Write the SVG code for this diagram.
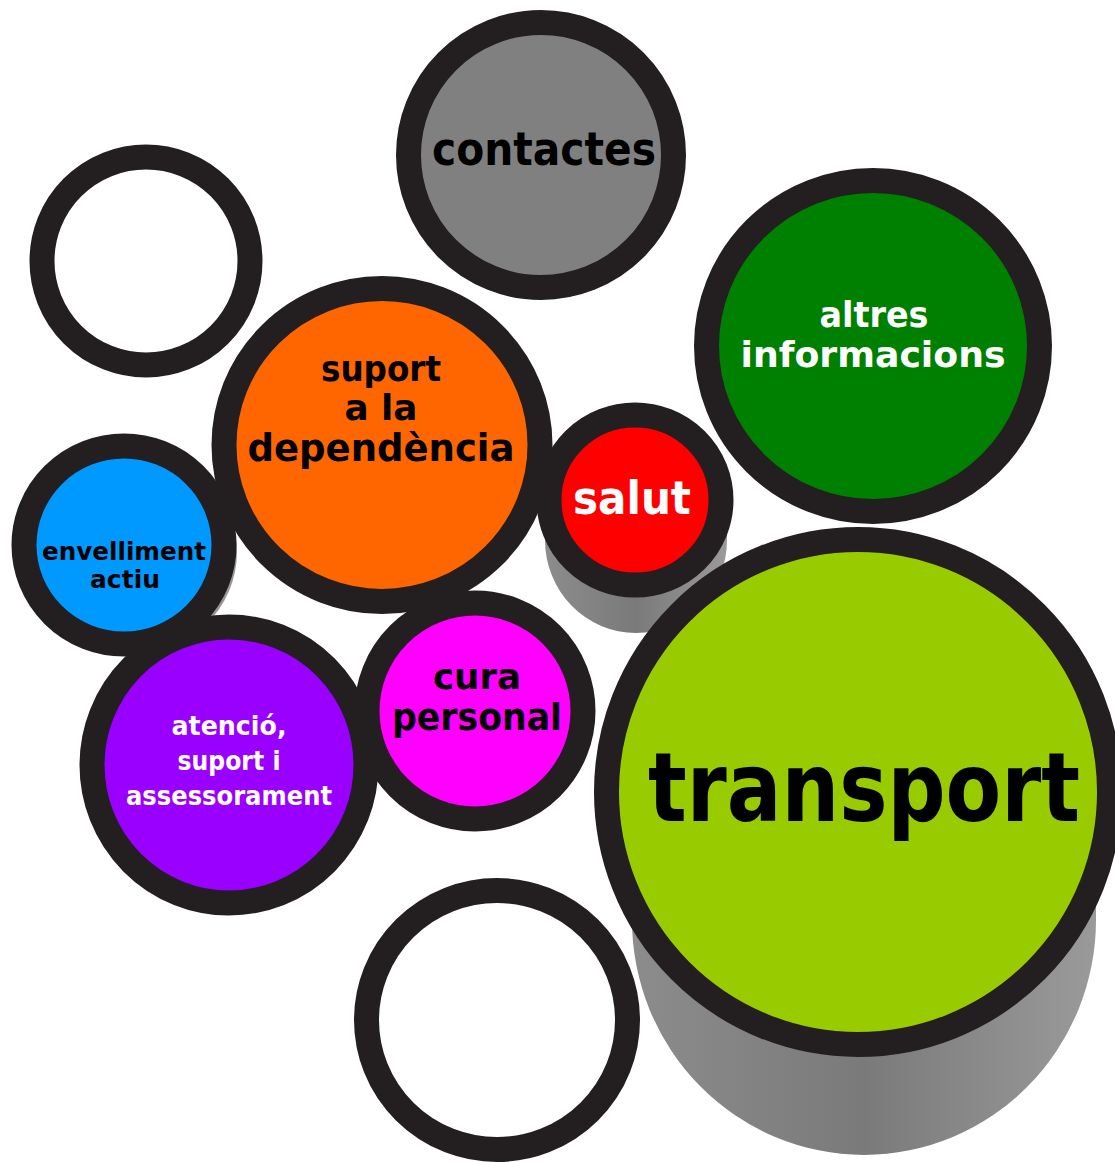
<svg xmlns="http://www.w3.org/2000/svg" width="1115" height="1162" viewBox="0 0 1115 1162">
<defs>
<linearGradient id="shade" x1="0" y1="0" x2="1" y2="0">
<stop offset="0" stop-color="#8c8c8c"/>
<stop offset="0.5" stop-color="#7a7a7a"/>
<stop offset="1" stop-color="#9a9a9a"/>
</linearGradient>
<style>
.ring{stroke:#231f20;stroke-width:25}
.sh{fill:url(#shade)}
.t{font-family:"DejaVu Sans","Liberation Sans",sans-serif;font-weight:bold;text-anchor:middle}
.w{fill:#ffffff}
.k{fill:#000000}
</style>
</defs>
<rect width="1115" height="1162" fill="#ffffff"/>
<g id="shadows">
<path class="sh" d="M545,500 L545,540 A91,93 0 0 0 727,540 L727,500 Z"/>
<path class="sh" d="M632,800 L632,920 A232,235 0 0 0 1096,920 L1096,800 Z"/>
<ellipse class="sh" cx="128" cy="552" rx="109" ry="104"/>
</g>
<g id="empty-top-left">
<ellipse class="ring" cx="146" cy="261" rx="104" ry="104" fill="#ffffff"/>
</g>
<g id="contactes">
<ellipse class="ring" cx="541" cy="155" rx="132.5" ry="132.5" fill="#808080"/>
<text class="t k" x="544" y="165" font-size="46" textLength="224" lengthAdjust="spacingAndGlyphs">contactes</text>
</g>
<g id="altres-informacions">
<ellipse class="ring" cx="873" cy="346" rx="166.5" ry="165.5" fill="#008000"/>
<text class="t w" x="874" y="327" font-size="36" textLength="109" lengthAdjust="spacingAndGlyphs">altres</text>
<text class="t w" x="873" y="367" font-size="36" textLength="265" lengthAdjust="spacingAndGlyphs">informacions</text>
</g>
<g id="suport-dependencia">
<ellipse class="ring" cx="382" cy="445" rx="158" ry="156.5" fill="#ff6600"/>
<text class="t k" x="381" y="381" font-size="35" textLength="120" lengthAdjust="spacingAndGlyphs">suport</text>
<text class="t k" x="381" y="420" font-size="35" textLength="73" lengthAdjust="spacingAndGlyphs">a la</text>
<text class="t k" x="381" y="461" font-size="37" textLength="267" lengthAdjust="spacingAndGlyphs">dependència</text>
</g>
<g id="envelliment-actiu">
<ellipse class="ring" cx="124" cy="545" rx="100" ry="99" fill="#0099ff"/>
<text class="t k" x="124" y="560" font-size="24" textLength="164" lengthAdjust="spacingAndGlyphs">envelliment</text>
<text class="t k" x="125" y="588" font-size="24" textLength="70" lengthAdjust="spacingAndGlyphs">actiu</text>
</g>
<g id="salut">
<ellipse class="ring" cx="635" cy="500" rx="86" ry="85" fill="#ff0000"/>
<text class="t w" x="632" y="514" font-size="47" textLength="118" lengthAdjust="spacingAndGlyphs">salut</text>
</g>
<g id="atencio">
<ellipse class="ring" cx="229" cy="765" rx="137" ry="138" fill="#9900ff"/>
<text class="t w" x="229" y="735" font-size="27" textLength="115" lengthAdjust="spacingAndGlyphs">atenció,</text>
<text class="t w" x="229" y="770" font-size="27" textLength="103" lengthAdjust="spacingAndGlyphs">suport i</text>
<text class="t w" x="229" y="805" font-size="27" textLength="206" lengthAdjust="spacingAndGlyphs">assessorament</text>
</g>
<g id="cura-personal">
<ellipse class="ring" cx="475" cy="711" rx="108" ry="108" fill="#ff00ff"/>
<text class="t k" x="477" y="689" font-size="36" textLength="88" lengthAdjust="spacingAndGlyphs">cura</text>
<text class="t k" x="477" y="730" font-size="38" textLength="170" lengthAdjust="spacingAndGlyphs">personal</text>
</g>
<g id="transport">
<ellipse class="ring" cx="858" cy="792" rx="251.5" ry="252.5" fill="#99cc00"/>
<text class="t k" x="864" y="821" font-size="96" textLength="432" lengthAdjust="spacingAndGlyphs">transport</text>
</g>
<g id="empty-bottom">
<ellipse class="ring" cx="497" cy="1020" rx="130.5" ry="129.5" fill="#ffffff"/>
</g>
</svg>
